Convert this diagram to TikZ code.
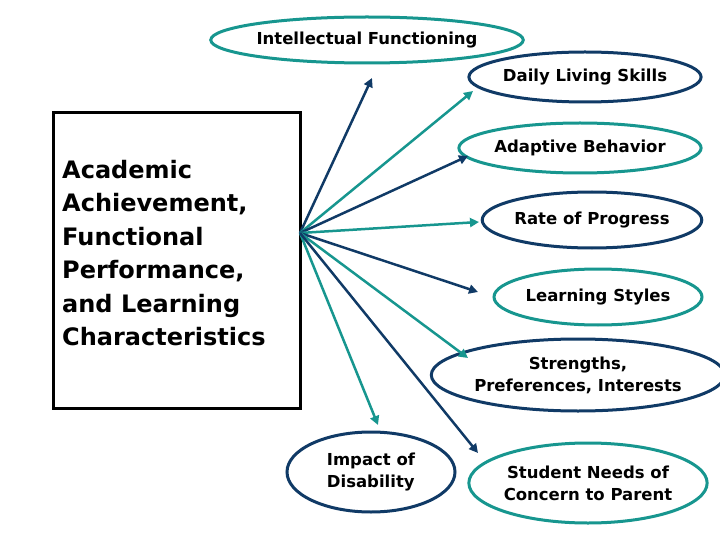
\documentclass[tikz,border=0pt]{standalone}
\usepackage{fontspec}
\setmainfont{DejaVu Sans}
\usetikzlibrary{shapes.geometric,arrows.meta}
\definecolor{navy}{HTML}{103A66}
\definecolor{teal}{HTML}{17968F}
\tikzset{
 ell/.style={ellipse,draw,line width=3pt,inner sep=0pt,text=black,font=\bfseries\fontsize{16.5}{22}\selectfont,align=center},
 arr/.style={line width=2.5pt,-{Triangle[length=9pt,width=9pt]}},
}
\begin{document}
\begin{tikzpicture}[x=1pt,y=-1pt]
\useasboundingbox (0,0) rectangle (720,540);
\draw[line width=3pt] (53,113) rectangle (300,408);
\node[anchor=north west,align=left,font=\bfseries\fontsize{24}{33.4}\selectfont,inner sep=0pt] (txt) at (62,160) {Academic\\Achievement,\\Functional\\Performance,\\and Learning\\Characteristics};
\coordinate (o) at (300,233);
\node[ell,draw=teal,minimum width=275,minimum height=46] (e1) at (367,40) {Intellectual Functioning};
\node[ell,draw=navy,minimum width=212,minimum height=50] (e2) at (585,77) {Daily Living Skills};
\node[ell,draw=teal,minimum width=222,minimum height=50] (e3) at (580,148) {Adaptive Behavior};
\node[ell,draw=navy,minimum width=208,minimum height=56] (e4) at (592,220) {Rate of Progress};
\node[ell,draw=teal,minimum width=208,minimum height=56] (e5) at (598,297) {Learning Styles};
\node[ell,draw=navy,minimum width=234,minimum height=72] (e6) at (578,375) {Strengths,\\Preferences, Interests};
\node[ell,draw=navy,minimum width=168,minimum height=80,align=left] (e7) at (371,472) {Impact of\\Disability};
\node[ell,draw=teal,minimum width=230,minimum height=80] (e8) at (588,483) {Student Needs of\\Concern to Parent};
\coordinate (t1) at (372,78); \coordinate (t2) at (473,91);
\coordinate (t3) at (468,156); \coordinate (t4) at (479,222);
\coordinate (t5) at (478,292); \coordinate (t6) at (468,358);
\coordinate (t7) at (378,425); \coordinate (t8) at (478,453);
\draw[arr,navy] (o) -- (t1);
\draw[arr,teal] (o) -- (t2);
\draw[arr,navy] (o) -- (t3);
\draw[arr,teal] (o) -- (t4);
\draw[arr,navy] (o) -- (t5);
\draw[arr,teal] (o) -- (t6);
\draw[arr,teal] (o) -- (t7);
\draw[arr,navy] (o) -- (t8);
\end{tikzpicture}
\end{document}
